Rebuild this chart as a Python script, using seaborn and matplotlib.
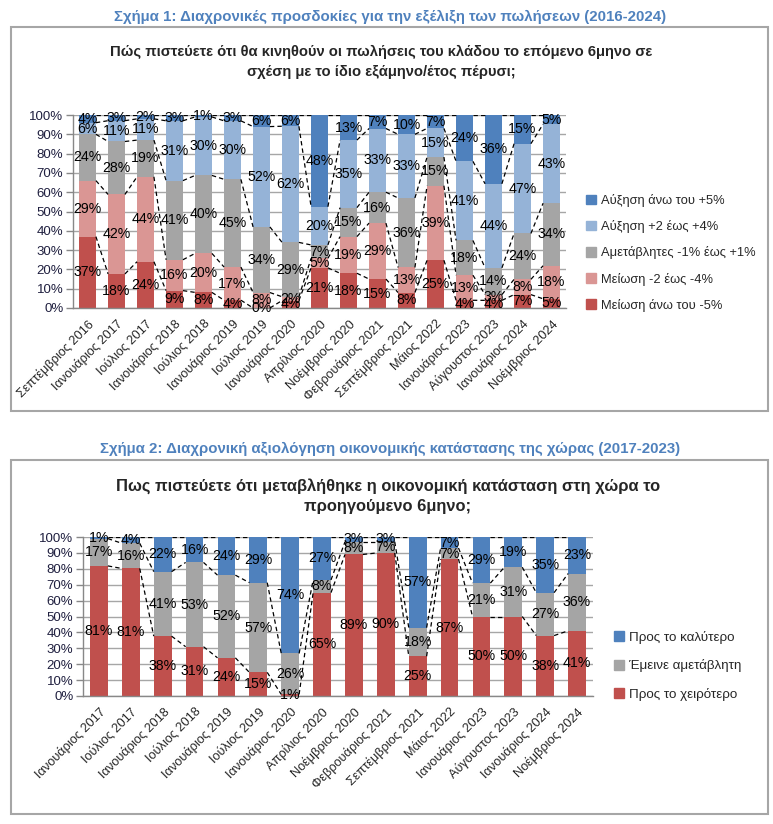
import numpy as np
import pandas as pd
import seaborn as sns
import matplotlib
matplotlib.use("Agg")
import matplotlib.pyplot as plt
from matplotlib.patches import Rectangle

# ---------------- Data: chart 1 ----------------
cats1 = ["Σεπτέμβριος 2016", "Ιανουάριος 2017", "Ιούλιος 2017", "Ιανουάριος 2018",
         "Ιούλιος 2018", "Ιανουάριος 2019", "Ιούλιος 2019", "Ιανουάριος 2020",
         "Απρίλιος 2020", "Νοέμβριος 2020", "Φεβρουάριος 2021", "Σεπτέμβριος 2021",
         "Μάιος 2022", "Ιανουάριος 2023", "Αύγουστος 2023", "Ιανουάριος 2024",
         "Νοέμβριος 2024"]
dec_big1 = [37, 18, 24, 9, 8, 4, 0, 4, 21, 18, 15, 8, 25, 4, 4, 7, 5]
dec_small1 = [29, 42, 44, 16, 20, 17, 8, 2, 5, 19, 29, 13, 39, 13, 3, 8, 18]
stable1 = [24, 28, 19, 41, 40, 45, 34, 29, 7, 15, 16, 36, 15, 18, 14, 24, 34]
inc_small1 = [6, 11, 11, 31, 30, 30, 52, 62, 20, 35, 33, 33, 15, 41, 44, 47, 43]
inc_big1 = [4, 3, 2, 3, 1, 3, 6, 6, 48, 13, 7, 10, 7, 24, 36, 15, 5]
series_names1 = ["Μείωση άνω του -5%", "Μείωση -2 έως -4%", "Αμετάβλητες -1% έως +1%",
                 "Αύξηση +2 έως +4%", "Αύξηση άνω του +5%"]
colors1 = ["#C0504D", "#DA9694", "#A5A5A5", "#95B3D7", "#4F81BD"]

# ---------------- Data: chart 2 ----------------
cats2 = ["Ιανουάριος 2017", "Ιούλιος 2017", "Ιανουάριος 2018", "Ιούλιος 2018",
         "Ιανουάριος 2019", "Ιούλιος 2019", "Ιανουάριος 2020", "Απρίλιος 2020",
         "Νοέμβριος 2020", "Φεβρουάριος 2021", "Σεπτέμβριος 2021", "Μάιος 2022",
         "Ιανουάριος 2023", "Αύγουστος 2023", "Ιανουάριος 2024", "Νοέμβριος 2024"]
worse2 = [81, 81, 38, 31, 24, 15, 1, 65, 89, 90, 25, 87, 50, 50, 38, 41]
same2 = [17, 16, 41, 53, 52, 57, 26, 8, 8, 7, 18, 7, 21, 31, 27, 36]
better2 = [1, 4, 22, 16, 24, 29, 74, 27, 3, 3, 57, 7, 29, 19, 35, 23]
series_names2 = ["Προς το χειρότερο", "Έμεινε αμετάβλητη", "Προς το καλύτερο"]
colors2 = ["#C0504D", "#A5A5A5", "#4F81BD"]

title1 = "Σχήμα 1: Διαχρονικές προσδοκίες για την εξέλιξη των πωλήσεων (2016-2024)"
title2 = "Σχήμα 2: Διαχρονική αξιολόγηση οικονομικής κατάστασης της χώρας (2017-2023)"
q1 = "Πώς πιστεύετε ότι θα κινηθούν οι πωλήσεις του κλάδου το επόμενο 6μηνο σε\nσχέση με το ίδιο εξάμηνο/έτος πέρυσι;"
q2 = "Πως πιστεύετε ότι μεταβλήθηκε η οικονομική κατάσταση στη χώρα το\nπροηγούμενο 6μηνο;"

sns.set_theme(style="white")
plt.rcParams["font.family"] = ["Liberation Sans", "DejaVu Sans"]

W, H = 773, 824
fig = plt.figure(figsize=(W / 100, H / 100), dpi=100)


def fx(x):
    return x / W


def fy(y):
    return 1 - y / H


def stacked(ax, cats, series, names, colors, width, label_fs):
    n = len(cats)
    arr = np.array(series, dtype=float)
    tot = arr.sum(axis=0)
    norm = arr / tot * 100
    cum = np.cumsum(norm, axis=0)
    # draw from the top layer downward (overlapping cumulative bars)
    for i in range(len(series) - 1, -1, -1):
        df = pd.DataFrame({"cat": cats, "val": cum[i]})
        sns.barplot(data=df, x="cat", y="val", order=cats, color=colors[i],
                    saturation=1, width=width, ax=ax, zorder=2, edgecolor="none")
    # series lines
    for i in range(len(series)):
        for j in range(n - 1):
            ax.plot([j + width / 2, j + 1 - width / 2], [cum[i][j], cum[i][j + 1]],
                    color="black", lw=0.9, ls=(0, (3.5, 2.5)), zorder=3)
    # labels
    for i in range(len(series)):
        for j in range(n):
            bottom = cum[i][j] - norm[i][j]
            ax.text(j, bottom + norm[i][j] / 2, f"{series[i][j]:d}%", ha="center",
                    va="center", fontsize=label_fs, color="black", zorder=4)
    ax.set_xlim(-0.5, n - 0.5)
    ax.set_ylim(0, 100)
    ax.set_yticks(np.arange(0, 101, 10))
    ax.set_yticklabels([f"{v}%" for v in range(0, 101, 10)], fontsize=9.5, color="#1F1F3F")
    ax.yaxis.grid(True, color="#A6A6A6", lw=1.0, zorder=0)
    ax.set_axisbelow(True)
    ax.set_xticks(range(n))
    ax.set_xticklabels(cats, rotation=45, ha="right", rotation_mode="anchor", fontsize=9.2)
    ax.set_xticks(np.arange(-0.5, n, 1), minor=True)
    ax.tick_params(axis="x", which="major", length=0, pad=7)
    ax.tick_params(axis="x", which="minor", length=5, color="#888888", width=1, direction="out")
    ax.tick_params(axis="y", length=5, color="#888888", width=1, direction="out", left=True, pad=2)
    ax.set_xlabel("")
    ax.set_ylabel("")
    for s in ["top", "right"]:
        ax.spines[s].set_visible(False)
    for s in ["left", "bottom"]:
        ax.spines[s].set_color("#888888")
        ax.spines[s].set_linewidth(1)


# ---------------- chart 1 ----------------
ax1 = fig.add_axes([fx(73), fy(308), fx(566) - fx(73), fy(115) - fy(308)])
stacked(ax1, cats1, [dec_big1, dec_small1, stable1, inc_small1, inc_big1],
        series_names1, colors1, 0.58, 10.2)

# ---------------- chart 2 ----------------
ax2 = fig.add_axes([fx(83), fy(696), fx(593) - fx(83), fy(537) - fy(696)])
stacked(ax2, cats2, [worse2, same2, better2], series_names2, colors2, 0.56, 10.2)

# ---------------- frames & titles ----------------
for (y0, y1) in [(27, 411), (460, 814)]:
    fig.add_artist(Rectangle((fx(11), fy(y1)), fx(768) - fx(11), fy(y0) - fy(y1),
                             transform=fig.transFigure, fill=False,
                             edgecolor="#A6A6A6", lw=1.5))

fig.text(fx(390), fy(17), title1, ha="center", va="center", fontsize=10.8,
         fontweight="bold", color="#4F81BD")
fig.text(fx(390), fy(449), title2, ha="center", va="center", fontsize=10.8,
         fontweight="bold", color="#4F81BD")
fig.text(fx(381), fy(62), q1, ha="center", va="center", fontsize=10.6,
         fontweight="bold", linespacing=1.55)
fig.text(fx(388), fy(496), q2, ha="center", va="center", fontsize=11.9,
         fontweight="bold", linespacing=1.4)

# ---------------- legends ----------------
h1 = [Rectangle((0, 0), 1, 1, color=c) for c in colors1[::-1]]
fig.legend(h1, series_names1[::-1], loc="upper left", bbox_to_anchor=(fx(586), fy(194)),
           frameon=False, fontsize=9.3, handlelength=0.75, handleheight=0.75,
           handletextpad=0.4, labelspacing=1.02, borderaxespad=0, borderpad=0)
h2 = [Rectangle((0, 0), 1, 1, color=c) for c in colors2[::-1]]
fig.legend(h2, series_names2[::-1], loc="upper left", bbox_to_anchor=(fx(614), fy(631)),
           frameon=False, fontsize=9.6, handlelength=0.75, handleheight=0.75,
           handletextpad=0.4, labelspacing=1.15, borderaxespad=0, borderpad=0)

fig.savefig("out.png", dpi=100)
